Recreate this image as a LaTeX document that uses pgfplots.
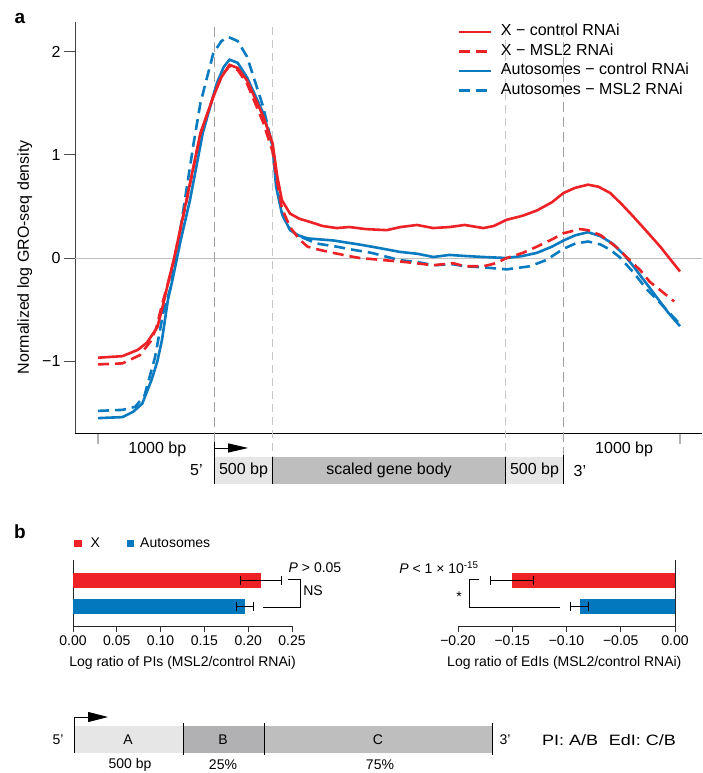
\documentclass[border=0pt]{standalone}
\usepackage{pgfplots}
\pgfplotsset{compat=1.18}
\usepackage{fontspec}
\setmainfont{Liberation Sans}
\usetikzlibrary{arrows.meta}

\definecolor{xred}{HTML}{EC2227}
\definecolor{ablue}{HTML}{0B7BC1}
\definecolor{barred}{HTML}{EE2226}
\definecolor{barblue}{HTML}{0378BF}
\definecolor{lightbox}{HTML}{E6E6E6}
\definecolor{midbox}{HTML}{BEBEBE}
\definecolor{darkbox}{HTML}{B1B1B4}
\definecolor{dashdark}{HTML}{A0A0A0}
\definecolor{dashlight}{HTML}{C8C8C8}

\newcommand{\fa}{\fontsize{16}{19}\selectfont}
\newcommand{\fb}{\fontsize{14}{17}\selectfont}

\pgfplotsset{
  errbar/.style={error bars/.cd, x dir=both, x explicit,
    error mark=|,
    error bar style={black, line width=1pt},
    error mark options={black, line width=1pt, mark size=4.5pt}},
}

\begin{document}
\begin{tikzpicture}
\useasboundingbox (0pt,0pt) rectangle (702pt,-773pt);

% ---------- panel a ----------
\node[font=\fontsize{19}{22}\selectfont\bfseries] at (20pt,-18pt) {a};
\begin{axis}[
  at={(75pt,-433pt)}, anchor=south west, scale only axis,
  width=627pt, height=411pt,
  xmin=-1.976, xmax=51.89, ymin=-1.694, ymax=2.285,
  axis x line*=bottom, axis y line*=left, axis line style={-},
  x axis line style={black, line width=0.9pt},
  y axis line style={black!75, line width=0.9pt},
  xtick={0,50}, xticklabels={},
  x tick style={black!30, line width=1.2pt},
  ytick={-1,0,1,2}, yticklabels={−1,0,1,2},
  y tick style={black!70, line width=0.9pt},
  tick align=outside, major tick length=11pt,
  yticklabel style={font=\fa},
  ylabel={Normalized log GRO-seq density},
  ylabel style={font=\fa, at={(axis description cs:-0.08,0.428)}, anchor=center},
  clip=false,
  reverse legend,
  legend cell align=left,
  legend image code/.code={\draw[#1] (0pt,0pt) -- (32pt,0pt);},
  legend style={at={(axis description cs:0.6055,1.005)}, anchor=north west,
    draw=none, fill=none, font=\fa, row sep=0pt,
    /tikz/every odd column/.append style={column sep=7pt},
    nodes={inner sep=1.5pt, text height=12pt, text depth=4.5pt}},
]
\addplot[black!25, line width=1pt, forget plot] coordinates {(-1.976,0) (51.89,0)};
\draw[dashdark, line width=1.3pt, dash pattern=on 10pt off 5pt] (axis cs:10,2.236) -- (axis cs:10,-1.781);
\draw[dashdark, line width=1.3pt, dash pattern=on 10pt off 5pt] (axis cs:40,2.236) -- (axis cs:40,-1.907);
\draw[dashlight, line width=1.1pt, dash pattern=on 8pt off 5pt] (axis cs:15,2.236) -- (axis cs:15,-1.926);
\draw[dashlight, line width=1.1pt, dash pattern=on 8pt off 5pt] (axis cs:35,2.236) -- (axis cs:35,-1.926);

\addplot[ablue, line width=2.6pt, dash pattern=on 11pt off 6pt] table {
x y
0 -1.48
2.1 -1.47
3.2 -1.44
4.0 -1.33
4.9 -0.96
5.6 -0.53
6.2 -0.30
6.9 0.15
7.6 0.66
8.2 1.10
8.8 1.50
9.9 1.98
10.6 2.10
11.2 2.14
12.0 2.10
12.8 1.95
14.2 1.46
15.0 1.08
15.4 0.66
15.9 0.40
16.5 0.28
17.1 0.22
18.8 0.14
20.5 0.11
21.9 0.08
23.5 0.05
25.9 -0.02
27.5 -0.04
28.8 -0.07
30.5 -0.06
31.5 -0.08
33.1 -0.09
35.1 -0.11
37.1 -0.08
38.5 -0.02
40 0.09
41 0.14
42.1 0.16
43.2 0.13
44 0.08
44.8 0.01
46 -0.14
47.2 -0.31
48 -0.40
49 -0.52
50 -0.64
};
\addlegendentry{Autosomes − MSL2 RNAi}

\addplot[ablue, line width=2.6pt] table {
x y
0 -1.55
2.1 -1.54
3.0 -1.49
3.8 -1.41
4.6 -1.18
5.1 -1.00
5.5 -0.79
6.0 -0.41
6.4 -0.21
7.1 0.17
7.9 0.56
9.0 1.21
10.2 1.69
10.8 1.85
11.3 1.92
12.0 1.89
12.8 1.75
14.2 1.40
15.0 1.08
15.3 0.69
15.8 0.43
16.5 0.27
17.2 0.22
18.0 0.19
20.2 0.17
22.5 0.13
24.0 0.10
25.9 0.06
27.5 0.04
28.8 0.01
30.2 0.03
31.5 0.02
33.1 0.01
35.1 0.00
36.5 0.02
37.7 0.05
39.0 0.11
40 0.17
41 0.22
42.1 0.25
43.2 0.21
44.2 0.14
45.2 0.03
46 -0.08
47 -0.23
48 -0.38
49 -0.53
50 -0.66
};
\addlegendentry{Autosomes − control RNAi}

\addplot[xred, line width=2.6pt, dash pattern=on 11pt off 6pt] table {
x y
0 -1.03
2.1 -1.02
3.6 -0.94
4.5 -0.81
5.0 -0.68
5.5 -0.45
6.0 -0.25
6.5 -0.03
7.6 0.55
8.8 1.20
9.9 1.56
10.6 1.76
11.3 1.86
12.0 1.82
12.8 1.69
14.2 1.31
15.0 1.03
15.4 0.73
15.8 0.48
16.5 0.30
17.3 0.18
18.0 0.11
19.0 0.08
20.2 0.05
21.5 0.02
22.5 0.00
24.5 -0.02
26.5 -0.04
28.8 -0.07
30.5 -0.05
31.5 -0.08
33.1 -0.08
34.2 -0.05
35.1 0.00
36.5 0.05
37.7 0.11
39.0 0.18
40 0.24
41.4 0.28
42.1 0.27
43.2 0.22
44.6 0.10
45.4 0.01
46.6 -0.12
47.4 -0.23
48.4 -0.32
49.5 -0.42
};
\addlegendentry{X − MSL2 RNAi}

\addplot[xred, line width=2.6pt] table {
x y
0 -0.965
2.1 -0.95
3.4 -0.89
4.2 -0.82
5.1 -0.67
5.6 -0.45
6.0 -0.25
6.5 -0.02
7.6 0.56
8.8 1.21
9.9 1.56
10.6 1.75
11.3 1.87
12.0 1.84
12.8 1.72
14.2 1.37
15.0 1.11
15.4 0.79
15.8 0.56
16.5 0.43
17.3 0.38
18.2 0.35
19.3 0.31
20.5 0.29
21.6 0.30
23.0 0.28
24.8 0.27
26.0 0.30
27.4 0.32
28.8 0.29
30.2 0.30
31.5 0.32
33.1 0.29
34.0 0.31
35.1 0.37
36.5 0.41
37.7 0.46
39.0 0.54
40 0.63
41.0 0.68
42.1 0.71
43.0 0.69
44 0.63
45 0.52
46 0.40
47.2 0.25
48.3 0.11
50 -0.13
};
\addlegendentry{X − control RNAi}

% gene diagram under panel a
\fill[lightbox] (axis cs:10,-1.926) rectangle (axis cs:15,-2.188);
\fill[midbox] (axis cs:15,-1.926) rectangle (axis cs:35,-2.188);
\fill[lightbox] (axis cs:35,-1.926) rectangle (axis cs:40,-2.188);
\draw[line width=0.9pt] (axis cs:10,-1.781) -- (axis cs:10,-2.188);
\draw[line width=0.9pt] (axis cs:15,-1.926) -- (axis cs:15,-2.188);
\draw[line width=0.9pt] (axis cs:35,-1.926) -- (axis cs:35,-2.188);
\draw[line width=0.9pt] (axis cs:40,-1.907) -- (axis cs:40,-2.188);
\draw[line width=0.9pt, -{Triangle[length=20pt,width=9pt]}] (axis cs:10,-1.839) -- (axis cs:12.9,-1.839);
\node[font=\fa] at (axis cs:12.5,-2.057) {500 bp};
\node[font=\fa] at (axis cs:25,-2.057) {scaled gene body};
\node[font=\fa] at (axis cs:37.5,-2.057) {500 bp};
\node[font=\fa] at (axis cs:8.45,-2.057) {5’};
\node[font=\fa] at (axis cs:41.4,-2.057) {3’};
\node[font=\fa] at (axis cs:5.1,-1.849) {1000 bp};
\node[font=\fa] at (axis cs:45.2,-1.849) {1000 bp};
\end{axis}

% ---------- panel b ----------
\node[font=\fontsize{19}{22}\selectfont\bfseries] at (20pt,-532pt) {b};
\fill[barred] (74pt,-539.5pt) rectangle (82pt,-547pt);
\node[font=\fb, anchor=west, inner sep=0pt] at (90.5pt,-543pt) {X};
\fill[barblue] (126.5pt,-539.5pt) rectangle (134pt,-547pt);
\node[font=\fb, anchor=west, inner sep=0pt] at (140pt,-543pt) {Autosomes};

\begin{axis}[
  at={(73pt,-626pt)}, anchor=south west, scale only axis,
  width=219pt, height=66pt,
  xmin=0, xmax=0.25, ymin=-0.75, ymax=1.788,
  axis x line*=bottom, axis y line*=left,
  axis line style={-, black!85, line width=0.9pt},
  xtick={0,0.05,0.1,0.15,0.2,0.25},
  xticklabels={0.00,0.05,0.10,0.15,0.20,0.25},
  ytick=\empty,
  tick align=outside, major tick length=6pt,
  x tick style={black!80, line width=0.9pt},
  xticklabel style={font=\fb},
  xlabel={Log ratio of PIs (MSL2/control RNAi)},
  xlabel style={font=\fb, at={(axis description cs:0.5,-0.56)}, anchor=center},
  clip=false,
]
\addplot[xbar, bar width=15pt, bar shift=0pt, fill=barred, draw=none, errbar]
  coordinates {(0.2146,1) +- (0.023,0)};
\addplot[xbar, bar width=15pt, bar shift=0pt, fill=barblue, draw=none, errbar]
  coordinates {(0.196,0) +- (0.0095,0)};
\end{axis}

\begin{axis}[
  at={(458pt,-626pt)}, anchor=south west, scale only axis,
  width=217pt, height=66pt,
  xmin=-0.2, xmax=0, ymin=-0.75, ymax=1.788,
  axis x line*=bottom, axis y line*=right,
  axis line style={-, black!85, line width=0.9pt},
  xtick={-0.2,-0.15,-0.1,-0.05,0},
  xticklabels={−0.20,−0.15,−0.10,−0.05,0.00},
  ytick=\empty,
  tick align=outside, major tick length=6pt,
  x tick style={black!80, line width=0.9pt},
  xticklabel style={font=\fb},
  xlabel={Log ratio of EdIs (MSL2/control RNAi)},
  xlabel style={font=\fb, at={(axis description cs:0.49,-0.56)}, anchor=center},
  clip=false,
]
\addplot[xbar, bar width=15pt, bar shift=0pt, fill=barred, draw=none, errbar]
  coordinates {(-0.150,1) +- (0.020,0)};
\addplot[xbar, bar width=15pt, bar shift=0pt, fill=barblue, draw=none, errbar]
  coordinates {(-0.0876,0) +- (0.0083,0)};
\end{axis}

% significance brackets
\draw[line width=0.9pt] (288pt,-579pt) -- (300pt,-579pt) -- (300pt,-607pt) -- (263pt,-607pt);
\node[font=\fb] at (315pt,-568pt) {\textit{P} > 0.05};
\node[font=\fb] at (313pt,-591pt) {NS};
\draw[line width=0.9pt] (479pt,-579pt) -- (469pt,-579pt) -- (469pt,-607pt) -- (560pt,-607pt);
\node[font=\fb, anchor=base] at (459pt,-601.5pt) {*};
\node[font=\fb] at (439pt,-568pt) {\textit{P} < 1 × 10\textsuperscript{-15}};

% gene model for PI / EdI
\fill[lightbox] (74pt,-726pt) rectangle (183pt,-753pt);
\fill[darkbox] (183pt,-726pt) rectangle (264pt,-753pt);
\fill[midbox] (264pt,-726pt) rectangle (492pt,-753pt);
\draw[line width=0.9pt] (74pt,-753pt) -- (74pt,-717pt);
\draw[line width=0.9pt, -{Triangle[length=20pt,width=10pt]}] (74pt,-717pt) -- (108pt,-717pt);
\draw[line width=0.9pt] (183pt,-723pt) -- (183pt,-755pt);
\draw[line width=0.9pt] (264pt,-723pt) -- (264pt,-755pt);
\draw[line width=0.9pt] (492pt,-723pt) -- (492pt,-755pt);
\node[font=\fb] at (128pt,-740pt) {A};
\node[font=\fb] at (223pt,-740pt) {B};
\node[font=\fb] at (378pt,-740pt) {C};
\node[font=\fb] at (130pt,-765pt) {500 bp};
\node[font=\fb] at (223pt,-765pt) {25\%};
\node[font=\fb] at (380pt,-765pt) {75\%};
\node[font=\fb] at (58pt,-740pt) {5’};
\node[font=\fb] at (505pt,-740pt) {3’};
\node[font=\fontsize{15}{18}\selectfont] at (609pt,-740pt) {\scalebox{1.2}[1]{PI: A/B\hspace{0.6em}EdI: C/B}};
\end{tikzpicture}
\end{document}
